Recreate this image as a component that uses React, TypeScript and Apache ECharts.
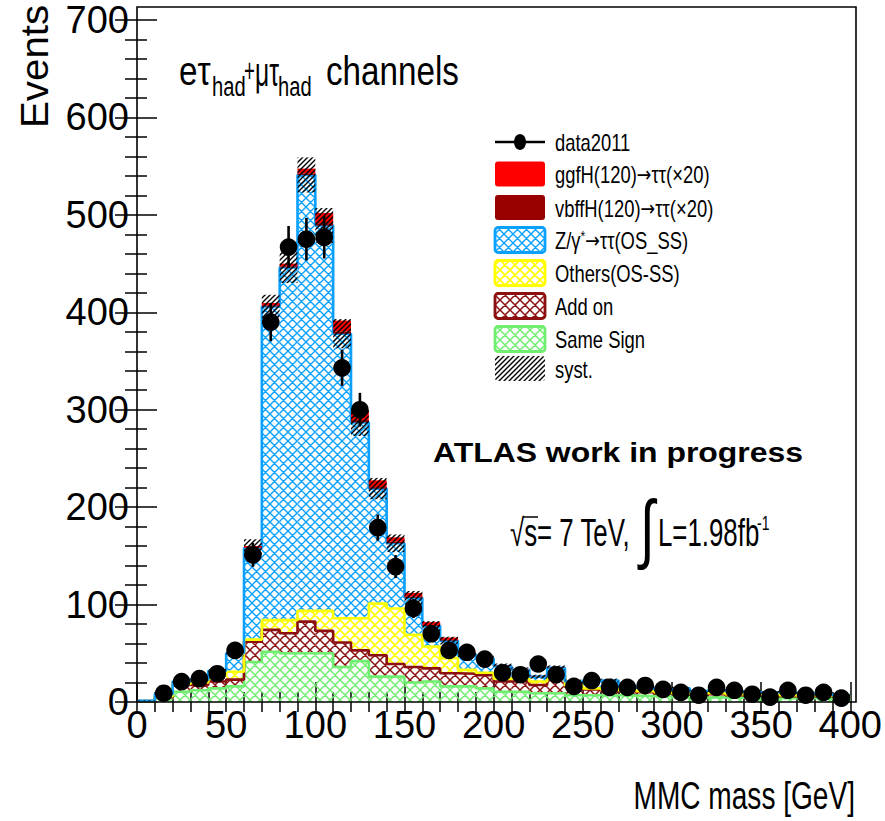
import React, { useEffect, useRef } from "react";
import * as echarts from "echarts";

// ---- data (10 GeV bins, low edges) ----
const binLow = [0, 10, 20, 30, 40, 50, 60, 70, 80, 90, 100, 110, 120, 130, 140, 150, 160, 170, 180, 190,
  200, 210, 220, 230, 240, 250, 260, 270, 280, 290, 300, 310, 320, 330, 340, 350, 360, 370, 380, 390];
const binWidth = 10;

const sameSign = [0.8, 4, 10.5, 12, 14, 16, 41, 51.5, 50, 50, 50, 36, 42, 26, 26, 20, 21, 16, 16, 14,
  10.5, 10.5, 9, 9, 7, 7, 7, 6.5, 6, 6, 5, 4.5, 5, 4.5, 4.5, 4, 4, 4, 3.5, 3.5];
const addOn = [0.2, 1, 7, 5.5, 7, 7, 21, 22.5, 20.5, 32.5, 23, 25, 11, 22, 13, 16, 13.5, 13.5, 13, 13.5,
  10.5, 10.5, 8.5, 17, 8.5, 6, 5, 4.5, 4, 3, 3, 3.5, 3, 2.5, 2.5, 3, 2, 2, 2.5, 2];
const others = [0.1, 1, 1, 2.5, 6, 8, 2, 10, 13.5, 11, 20.5, 25, 33, 53, 57, 33, 22.5, 15.5, 4, 2.5,
  3, 3, 3.5, 1, 1.5, 1, 1, 1, 1, 1, 1, 1, 1, 1, 1, 1, 1, 1, 0.5, 0.5];
const zTauTau = [0.2, 2, 2.5, 3, 5, 19, 94, 322, 362, 447.5, 395.5, 292, 201, 118, 67, 38, 21, 18, 16, 15,
  13, 9, 5, 8, 4, 8, 9, 4, 4, 3, 5, 2, 3, 3, 2, 2, 3, 2, 1.5, 1];
const vbfH = [0, 0, 0, 0, 0, 0, 0.5, 1, 1, 1.5, 2.5, 2.5, 2.5, 1.5, 1.5, 1, 1, 0.7, 0.3, 0.2,
  0.1, 0.1, 0.1, 0.1, 0, 0, 0, 0, 0, 0, 0, 0, 0, 0, 0, 0, 0, 0, 0, 0];
const ggfH = [0, 0, 0, 0, 0, 0.3, 1.5, 2.5, 3, 5, 10.5, 11, 9.5, 7, 4.5, 4, 3, 2.5, 1, 0.8,
  0.5, 0.3, 0.3, 0.3, 0.2, 0.2, 0, 0, 0, 0, 0, 0, 0, 0, 0, 0, 0, 0, 0, 0];
const systErr = [0.3, 1, 1.5, 1.5, 2, 3, 9, 12, 16, 18, 18, 15, 14, 11, 9, 7, 5, 4, 3, 3,
  2.5, 2.5, 2, 2.5, 2, 2, 2, 1.5, 1.5, 1.5, 1.5, 1.5, 1.5, 1.5, 1.5, 1.5, 1.5, 1.5, 1.5, 1.5];
const dataVals = [null, 9, 21, 24, 29, 53, 151, 390, 467, 475, 477, 343, 300, 179, 139, 96, 70, 53, 51, 44,
  30, 28, 39, 28, 16, 22, 15, 15, 17, 13, 10, 7, 15, 12, 8, 5, 12, 7, 10, 4];
const dataErr = [null, 3, 4.6, 4.9, 5.4, 7.3, 12.3, 19.7, 21.6, 21.8, 21.8, 18.5, 17.3, 13.4, 11.8, 9.8, 8.4, 7.3, 7.1, 6.6,
  5.5, 5.3, 6.2, 5.3, 4, 4.7, 3.9, 3.9, 4.1, 3.6, 3.2, 2.6, 3.9, 3.5, 2.8, 2.2, 3.5, 2.6, 3.2, 2];

// legend labels ({a|...} marks the arrow drawn with a font that has a full-size arrow)
const legendLabels = [
  "data2011",
  "ggfH(120){a|→}ττ(×20)",
  "vbffH(120){a|→}ττ(×20)",
  "Z/γ{s|*}{a|→}ττ(OS_SS)",
  "Others(OS-SS)",
  "Add on",
  "Same Sign",
  "syst.",
];

const FONT = "'Liberation Sans', Arial, Helvetica, sans-serif";
const NARROW = "'Liberation Sans Narrow', 'Arial Narrow', 'Liberation Sans', Arial, sans-serif";

const BLUE = "#0aa0ff";
const YELLOW = "#ffff00";
const MAROON = "#8c1010";
const GREEN = "#6fee6f";
const DARKRED = "#990000";
const RED = "#ff0000";

function makeHatch(color: string, kind: "cross" | "diag", size: number, lw: number) {
  const c = document.createElement("canvas");
  c.width = size;
  c.height = size;
  const ctx = c.getContext("2d")!;
  ctx.strokeStyle = color;
  ctx.lineWidth = lw;
  ctx.beginPath();
  const s = size;
  if (kind === "cross") {
    ctx.moveTo(0, 0); ctx.lineTo(s, s);
    ctx.moveTo(-s, 0); ctx.lineTo(0, s);
    ctx.moveTo(s, 0); ctx.lineTo(2 * s, s);
    ctx.moveTo(0, s); ctx.lineTo(s, 0);
    ctx.moveTo(-s, s); ctx.lineTo(s, -s);
    ctx.moveTo(0, 2 * s); ctx.lineTo(2 * s, 0);
  } else {
    ctx.moveTo(0, s); ctx.lineTo(s, 0);
    ctx.moveTo(-s, s); ctx.lineTo(s, -s);
    ctx.moveTo(0, 2 * s); ctx.lineTo(2 * s, 0);
  }
  ctx.stroke();
  return { image: c, repeat: "repeat", imageWidth: size, imageHeight: size };
}

export default function App() {
  const ref = useRef<HTMLDivElement>(null);

  useEffect(() => {
    if (!ref.current) return;
    const chart = echarts.init(ref.current, undefined, { renderer: "svg" });

    const pats: Record<string, any> = {
      blue: makeHatch(BLUE, "cross", 9, 1.4),
      yellow: makeHatch(YELLOW, "cross", 10, 1.6),
      maroon: makeHatch(MAROON, "cross", 10, 1.5),
      green: makeHatch(GREEN, "cross", 10, 1.5),
      syst: makeHatch("#000000", "diag", 5, 1.4),
    };

    const layers = [
      { values: sameSign, color: GREEN, fill: pats.green, outline: true },
      { values: addOn, color: MAROON, fill: pats.maroon, outline: true },
      { values: others, color: YELLOW, fill: pats.yellow, outline: true },
      { values: zTauTau, color: BLUE, fill: pats.blue, outline: true },
      { values: vbfH, color: DARKRED, fill: DARKRED, outline: false },
      { values: ggfH, color: RED, fill: RED, outline: false },
    ];

    const series: any[] = [];
    let run = binLow.map(() => 0);
    let bkgTop: number[] = run;
    layers.forEach((layer, li) => {
      const bottom = run.slice();
      const top = run.map((v, i) => v + layer.values[i]);
      run = top;
      if (li === 3) bkgTop = top.slice();
      series.push({
        type: "custom",
        silent: true,
        z: li >= 4 ? 4 : 2,
        data: binLow.map((lo, i) => [lo, lo + binWidth, bottom[i], top[i]]),
        renderItem: (_p: any, api: any) => {
          const a = api.coord([api.value(0), api.value(3)]);
          const b = api.coord([api.value(1), api.value(2)]);
          return {
            type: "rect",
            shape: { x: a[0], y: a[1], width: b[0] - a[0], height: b[1] - a[1] },
            style: { fill: layer.fill, stroke: null },
          };
        },
      });
      if (layer.outline) {
        const pts = binLow.map((lo, i) => [lo, top[i]]);
        pts.push([binLow[binLow.length - 1] + binWidth, top[top.length - 1]]);
        series.push({
          type: "line",
          step: "end",
          silent: true,
          symbol: "none",
          z: 3,
          data: pts,
          lineStyle: { color: layer.color, width: 2.6 },
        });
      }
    });

    // systematic band around background
    series.push({
      type: "custom",
      silent: true,
      z: 5,
      data: binLow.map((lo, i) => [lo, lo + binWidth, bkgTop[i] - systErr[i], bkgTop[i] + systErr[i]]),
      renderItem: (_p: any, api: any) => {
        const a = api.coord([api.value(0), api.value(3)]);
        const b = api.coord([api.value(1), api.value(2)]);
        return {
          type: "rect",
          shape: { x: a[0], y: a[1], width: b[0] - a[0], height: b[1] - a[1] },
          style: { fill: pats.syst, stroke: null },
        };
      },
    });

    // data points
    const pts: any[] = [];
    binLow.forEach((lo, i) => {
      if (dataVals[i] != null) pts.push([lo + binWidth / 2, dataVals[i], dataErr[i]]);
    });
    series.push({
      type: "custom",
      silent: true,
      z: 20,
      data: pts,
      renderItem: (_p: any, api: any) => {
        const x = api.value(0), y = api.value(1), e = api.value(2);
        const c = api.coord([x, y]);
        const t = api.coord([x, y + e]);
        const bt = api.coord([x, y - e]);
        return {
          type: "group",
          children: [
            { type: "line", shape: { x1: c[0], y1: t[1], x2: c[0], y2: bt[1] }, style: { stroke: "#000", lineWidth: 2.6 } },
            { type: "circle", shape: { cx: c[0], cy: c[1], r: 8.8 }, style: { fill: "#000" } },
          ],
        };
      },
    });

    const tickStyle = { color: "#000", width: 1.5 };
    const xBase = {
      type: "value",
      min: 0,
      max: 400,
      interval: 50,
      splitLine: { show: false },
      axisLine: { show: false },
    };
    const yBase = {
      type: "value",
      min: 0,
      max: 700,
      interval: 100,
      splitLine: { show: false },
      axisLine: { show: false },
    };

    // legend graphics
    const rowY = [142, 174, 207.5, 240, 273, 306, 339, 368.5];
    const boxX = 495, boxW = 50, boxH = 25;
    const legendFills = [null, RED, DARKRED, pats.blue, pats.yellow, pats.maroon, pats.green, pats.syst];
    const legendStrokes = [null, null, null, BLUE, YELLOW, MAROON, GREEN, null];
    const legendEls: any[] = [];
    legendLabels.forEach((lab, i) => {
      const y = rowY[i];
      if (i === 0) {
        legendEls.push({ type: "line", shape: { x1: boxX, y1: y, x2: boxX + boxW, y2: y }, style: { stroke: "#000", lineWidth: 2.6 } });
        legendEls.push({ type: "ellipse", shape: { cx: boxX + boxW / 2, cy: y, rx: 6, ry: 8 }, style: { fill: "#000" } });
      } else {
        legendEls.push({
          type: "rect",
          shape: { x: boxX, y: y - boxH / 2, width: boxW, height: boxH, r: 3 },
          style: {
            fill: legendFills[i],
            stroke: legendStrokes[i] || null,
            lineWidth: legendStrokes[i] ? 2.8 : 0,
          },
        });
      }
      legendEls.push({
        type: "text",
        x: 555,
        y: y + 1,
        scaleX: 0.8,
        style: {
          text: lab,
          fontSize: 23,
          fontFamily: FONT,
          fill: "#000",
          align: "left",
          verticalAlign: "middle",
          rich: {
            a: { fontFamily: "'DejaVu Sans', sans-serif", fontSize: 22, fill: "#000" },
            s: { fontFamily: FONT, fontSize: 15, fill: "#000", verticalAlign: "top", padding: [0, 0, 10, 0] },
          },
        },
      });
    });

    const txt = (text: string, x: number, y: number, size: number, sx: number, extra: any = {}) => ({
      type: "text",
      x,
      y,
      scaleX: sx,
      z: 30,
      style: { text, fontSize: size, fontFamily: FONT, fill: "#000", align: "left", verticalAlign: "middle", ...extra },
    });

    const option: any = {
      animation: false,
      backgroundColor: "#ffffff",
      grid: { left: 137, top: 20, width: 719, height: 682, containLabel: false },
      xAxis: [
        {
          ...xBase,
          position: "bottom",
          axisTick: { show: true, inside: true, length: 20, lineStyle: tickStyle },
          minorTick: { show: true, splitNumber: 5, length: 10, lineStyle: tickStyle },
          axisLabel: { color: "#000", fontSize: 38, fontFamily: NARROW, margin: 4 },
        },
        {
          ...xBase,
          position: "top",
          offset: 13,
          axisTick: { show: true, inside: true, length: 10, lineStyle: tickStyle },
          minorTick: { show: true, splitNumber: 5, length: 10, lineStyle: tickStyle },
          axisLabel: { show: false },
        },
      ],
      yAxis: [
        {
          ...yBase,
          position: "left",
          axisTick: { show: true, inside: true, length: 20, lineStyle: tickStyle },
          minorTick: { show: true, splitNumber: 5, length: 10, lineStyle: tickStyle },
          axisLabel: { color: "#000", fontSize: 38, fontFamily: NARROW, margin: 8 },
        },
        {
          ...yBase,
          position: "right",
          axisTick: { show: true, inside: true, length: 22, lineStyle: tickStyle },
          minorTick: { show: true, splitNumber: 5, length: 12, lineStyle: tickStyle },
          axisLabel: { show: false },
        },
      ],
      series,
      graphic: [
        {
          type: "rect",
          z: 10,
          silent: true,
          shape: { x: 137, y: 7, width: 719, height: 695 },
          style: { fill: "none", stroke: "#000", lineWidth: 1.6 },
        },
        { type: "group", z: 30, children: legendEls },
        // channel label
        txt("eτ", 179, 71, 41, 0.81),
        txt("had", 212, 86, 28, 0.72),
        txt("+", 244, 70, 34, 0.55),
        txt("μτ", 255, 71, 41, 0.6),
        txt("had", 278, 86, 28, 0.72),
        txt("channels", 326, 71, 41, 0.81),
        // ATLAS label
        txt("ATLAS work in progress", 433, 452, 28, 1.14, { fontWeight: "bold" }),
        txt("√s= 7 TeV,", 510, 533, 38, 0.68),
        {
          type: "line",
          z: 30,
          shape: { x1: 523, y1: 517, x2: 538, y2: 517 },
          style: { stroke: "#000", lineWidth: 1.5 },
        },
        txt("∫", 640, 528, 76, 0.7),
        txt("L=1.98fb", 658, 533, 38, 0.68),
        txt("-1", 757, 523, 20, 0.7),
        // axis titles
        txt("MMC mass [GeV]", 855, 795, 39, 0.72, { align: "right" }),
        {
          type: "text",
          x: 35,
          y: 128,
          rotation: Math.PI / 2,
          scaleX: 1.06,
          z: 30,
          style: { text: "Events", fontSize: 38, fontFamily: FONT, fill: "#000", align: "left", verticalAlign: "middle" },
        },
      ],
    };

    chart.setOption(option);
    return () => chart.dispose();
  }, []);

  return (
    <div
      ref={ref}
      style={{ position: "fixed", left: 0, top: 0, width: 885, height: 821, background: "#fff" }}
    />
  );
}
